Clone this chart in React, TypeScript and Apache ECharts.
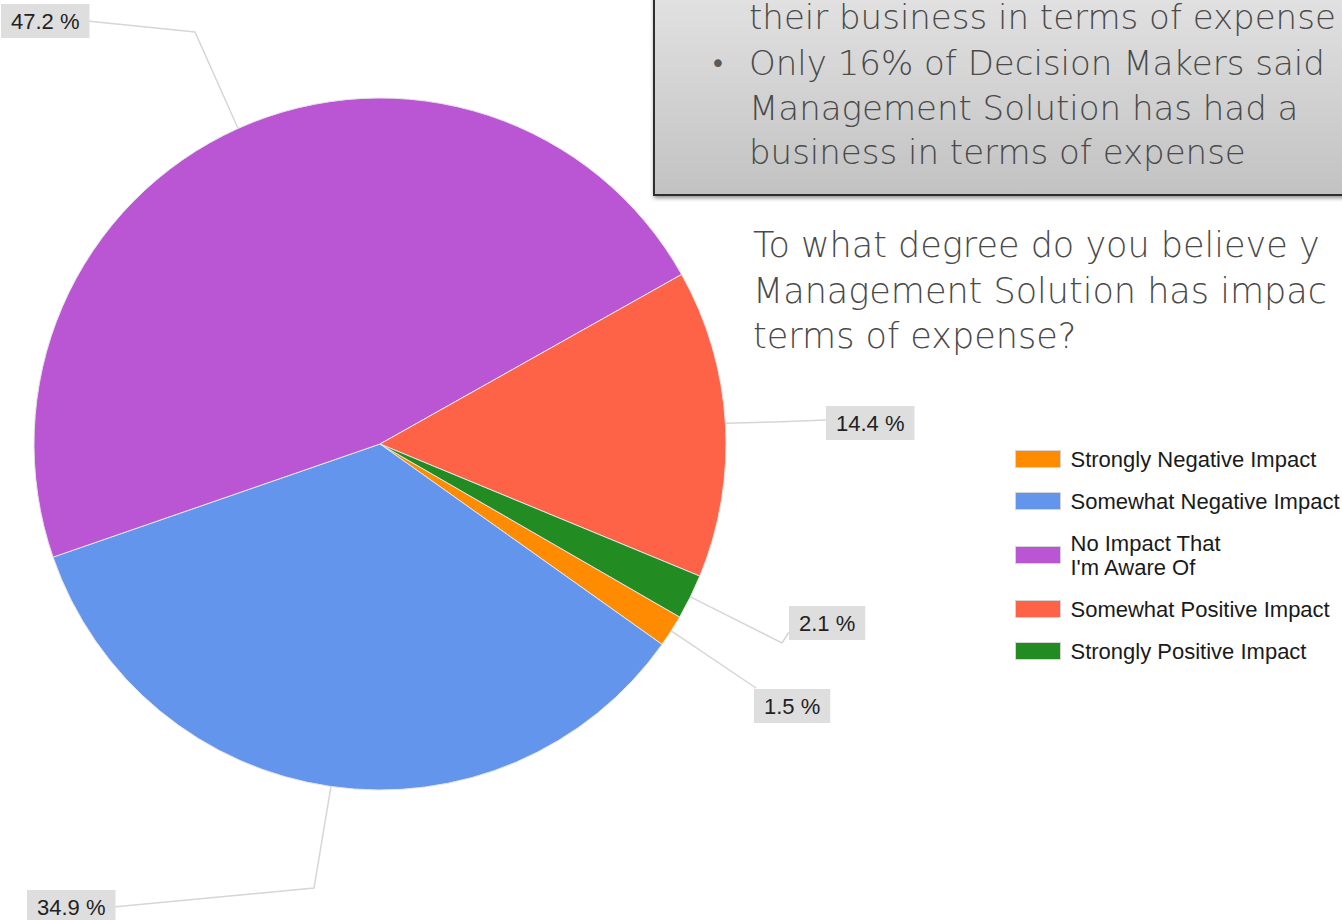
import React, { useEffect, useRef } from "react";
import * as echarts from "echarts";

const categories = [
  "Strongly Negative Impact",
  "Somewhat Negative Impact",
  "No Impact That I'm Aware Of",
  "Somewhat Positive Impact",
  "Strongly Positive Impact",
];
const percentages = [1.5, 34.9, 47.2, 14.4, 2.1];
const sliceColors = ["#FF8C00", "#6495ED", "#BA55D3", "#FF6347", "#228B22"];
const legendNames: Record<string, string> = {
  "No Impact That I'm Aware Of": "No Impact That\nI'm Aware Of",
};

const boxLines = [
  "their business in terms of expense",
  "Only 16% of Decision Makers said",
  "Management Solution has had a",
  "business in terms of expense",
];
const questionLines = [
  "To what degree do you believe y",
  "Management Solution has impac",
  "terms of expense?",
];

// label box placement (layout only): top-left of box, bend point, line end
const labelPlacement = [
  { x: 754, y: 689, bend: [756, 688], end: [756, 688] },
  { x: 27, y: 890, bend: [314, 888], end: [113, 907] },
  { x: 1, y: 4, bend: [195, 32], end: [87, 21] },
  { x: 826, y: 406, bend: [775, 422], end: [826, 420] },
  { x: 789, y: 606, bend: [782, 643], end: [789, 632] },
];

const CX = 380;
const CY = 444;
const R = 346;
const START = -30;
const SANS = "'Liberation Sans', Arial, sans-serif";
const GOTHIC = "'DejaVu Sans', 'Century Gothic', sans-serif";

export default function App() {
  const ref = useRef<HTMLDivElement>(null);

  useEffect(() => {
    document.body.style.margin = "0";
    if (!ref.current) return;
    const chart = echarts.init(ref.current, undefined, { renderer: "svg" });
    const total = percentages.reduce((a, b) => a + b, 0);

    const edgePoint = (i: number) => {
      let cum = 0;
      for (let k = 0; k < i; k++) cum += percentages[k];
      const a = ((START - ((cum + percentages[i] / 2) / total) * 360) * Math.PI) / 180;
      return [CX + R * Math.cos(a), CY - R * Math.sin(a)];
    };

    const graphics: any[] = [
      {
        type: "rect",
        left: 653,
        top: -10,
        shape: { width: 720, height: 204 },
        style: {
          fill: new echarts.graphic.LinearGradient(0, 0, 0, 1, [
            { offset: 0, color: "#e2e2e2" },
            { offset: 1, color: "#c2c2c2" },
          ]),
          stroke: "#2e2e2e",
          lineWidth: 2,
          shadowBlur: 4,
          shadowOffsetX: 1,
          shadowOffsetY: 2,
          shadowColor: "rgba(0,0,0,0.45)",
        },
        z: 1,
      },
      {
        type: "text",
        x: 718,
        y: 64,
        style: {
          text: "•",
          font: `26px ${GOTHIC}`,
          fill: "#595959",
          align: "center",
          verticalAlign: "middle",
        },
        z: 2,
      },
    ];
    const boxY = [17, 63, 108, 152];
    boxLines.forEach((t, i) => {
      graphics.push({
        type: "text",
        x: 749,
        y: boxY[i],
        style: {
          text: t,
          font: `300 34px ${GOTHIC}`,
          fill: "#4a4a4a",
          verticalAlign: "middle",
          align: "left",
        },
        z: 2,
      });
    });
    const qY = [245, 291, 336];
    questionLines.forEach((t, i) => {
      graphics.push({
        type: "text",
        x: 753,
        y: qY[i],
        style: {
          text: t,
          font: `300 35px ${GOTHIC}`,
          fill: "#4a4a4a",
          verticalAlign: "middle",
          align: "left",
        },
        z: 2,
      });
    });

    chart.setOption({
      animation: false,
      backgroundColor: "#ffffff",
      color: sliceColors,
      legend: {
        orient: "vertical",
        left: 1010,
        top: 442,
        itemWidth: 45,
        itemHeight: 17,
        itemGap: 18,
        icon: "rect",
        itemStyle: { borderColor: "#d4d4d4", borderWidth: 1 },
        formatter: (name: string) => legendNames[name] || name,
        textStyle: {
          fontFamily: SANS,
          fontSize: 22,
          lineHeight: 24,
          color: "#1a1a1a",
          padding: [0, 0, 0, 5],
        },
        data: categories,
      },
      graphic: graphics,
      series: [
        {
          type: "pie",
          center: [CX, CY],
          radius: R,
          startAngle: START,
          clockwise: true,
          avoidLabelOverlap: false,
          itemStyle: { borderColor: "#e4e4e4", borderWidth: 1 },
          label: {
            show: true,
            position: "outside",
            formatter: (p: any) => `${Number(p.value).toFixed(1)} %`,
            fontFamily: SANS,
            fontSize: 22,
            color: "#222",
            backgroundColor: "#dedede",
            padding: [6, 10, 6, 10],
          },
          labelLine: {
            show: true,
            length: 20,
            length2: 20,
            lineStyle: { color: "#d6d6d6", width: 1.5 },
          },
          labelLayout: (params: any) => {
            const i = params.dataIndex;
            const pl = labelPlacement[i];
            const start =
              params.labelLinePoints && params.labelLinePoints[0]
                ? params.labelLinePoints[0]
                : edgePoint(i);
            return {
              x: pl.x,
              y: pl.y,
              align: "left",
              verticalAlign: "top",
              labelLinePoints: [start, pl.bend, pl.end],
            };
          },
          data: categories.map((c, i) => ({ name: c, value: percentages[i] })),
        },
      ],
    });

    return () => chart.dispose();
  }, []);

  return <div ref={ref} style={{ width: 1342, height: 920 }} />;
}
